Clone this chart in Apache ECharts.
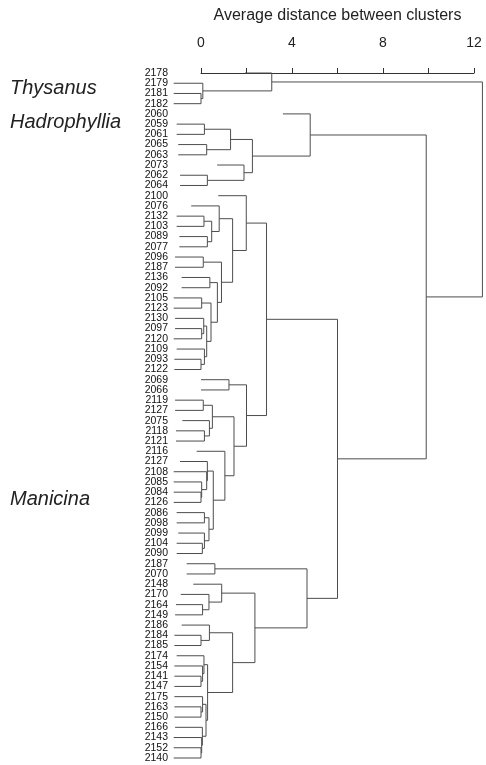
<!DOCTYPE html>
<html><head><meta charset="utf-8">
<script src="https://cdn.jsdelivr.net/npm/echarts@6/dist/echarts.min.js"></script>
<style>html,body{margin:0;padding:0;background:#fff}#c{width:486px;height:765px}</style>
</head><body><div id="c"></div>
<script>
// Leaf labels, top to bottom
const leaves = ['2178','2179','2181','2182','2060','2059','2061','2065','2063','2073','2062','2064',
  '2100','2076','2132','2103','2089','2077','2096','2187','2136','2092','2105','2123','2130','2097',
  '2120','2109','2093','2122','2069','2066','2119','2127','2075','2118','2121','2116','2127','2108',
  '2085','2084','2126','2086','2098','2099','2104','2090','2187','2070','2148','2170','2164','2149',
  '2186','2184','2185','2174','2154','2141','2147','2175','2163','2150','2166','2143','2152','2140'];

// Distance value where each leaf's stub begins (as drawn)
const leafStart = [1.93,-1.2,-1.2,-1.2,3.6,-1.07,-1.07,-1.0,-1.0,0.71,-0.92,-0.92,
  0.76,-0.43,-1.07,-1.07,-0.95,-0.95,-1.14,-1.14,-0.85,-0.85,-1.2,-1.2,-1.14,-1.14,
  -1.2,-1.07,-1.17,-1.17,0.0,0.0,-1.14,-1.14,-0.82,-1.1,-1.1,-0.19,-0.92,-1.2,
  -1.2,-1.2,-1.2,-1.07,-1.07,-1.0,-1.07,-1.07,-0.63,-0.63,-0.34,-0.89,-1.1,-1.14,
  -0.85,-1.17,-1.17,-1.07,-1.17,-1.17,-1.17,-1.17,-1.17,-1.17,-1.14,-1.2,-1.2,-1.2];

// Merges: [nodeA, nodeB, distance]; nodes < 68 are leaves, 68+k is the k-th merge
const merges = [
  [2,3,0.0],[1,68,0.08],[0,69,3.11],
  [5,6,0.15],[7,8,0.25],[71,72,1.3],[10,11,0.28],[9,74,1.89],[73,75,2.26],[4,76,4.8],
  [14,15,0.13],[16,17,0.28],[78,79,0.47],[13,80,0.8],[18,19,0.1],[20,21,0.39],[22,23,0.03],
  [25,26,0.03],[24,85,0.12],[28,29,0.0],[27,87,0.15],[86,88,0.25],[84,89,0.44],[83,90,0.72],
  [82,91,0.9],[81,92,1.39],[12,93,1.99],
  [30,31,1.23],[32,33,0.1],[35,36,0.15],[34,97,0.37],[96,98,0.5],
  [41,42,0.0],[40,100,0.03],[39,101,0.25],[38,102,0.28],
  [43,44,0.15],[46,47,0.06],[45,105,0.15],[104,106,0.35],[103,107,0.54],[37,108,1.05],
  [99,109,1.45],[95,110,2.0],[94,111,2.88],
  [48,49,0.61],[52,53,0.07],[51,114,0.35],[50,115,0.91],[55,56,0.0],[54,117,0.37],
  [59,60,0.0],[58,119,0.07],[57,120,0.13],[62,63,0.0],[61,122,0.07],[66,67,0.0],[65,124,0.03],
  [64,125,0.06],[123,126,0.22],[121,127,0.29],[118,128,1.39],[116,129,2.37],[113,130,4.66],
  [112,131,6.0],[77,132,9.9],[70,133,12.37]
];

const xTicks = [0, 4, 8, 12];
const groupNames = ['Thysanus', 'Hadrophyllia', 'Manicina'];

// Build segments from the tree
const n = leaves.length;
const nodeY = [], parentH = [];
for (let i = 0; i < n; i++) nodeY[i] = i;
merges.forEach(([a, b, h], k) => {
  nodeY[n + k] = (nodeY[a] + nodeY[b]) / 2;
  parentH[a] = h; parentH[b] = h;
});
const segs = [];
for (let i = 0; i < n; i++) segs.push([leafStart[i], i, parentH[i], i]);
merges.forEach(([a, b, h], k) => {
  const id = n + k;
  segs.push([h, nodeY[a], h, nodeY[b]]);
  if (parentH[id] !== undefined) segs.push([h, nodeY[id], parentH[id], nodeY[id]]);
});

const FONT = '"Liberation Sans", Arial, sans-serif';
const chart = echarts.init(document.getElementById('c'), null, {renderer: 'canvas'});
chart.setOption({
  animation: false,
  backgroundColor: '#fff',
  grid: {left: 201, right: 12, top: 67.9, bottom: 1.9},
  xAxis: {
    type: 'value', position: 'top', min: 0, max: 12, interval: 2, offset: 7.9,
    name: 'Average distance between clusters', nameLocation: 'middle', nameGap: 36,
    nameTextStyle: {fontSize: 16, color: '#222', fontFamily: FONT},
    axisLine: {show: true, lineStyle: {color: '#333', width: 1}},
    axisTick: {show: true, length: 5, lineStyle: {color: '#333'}},
    axisLabel: {margin: 10, fontSize: 14, color: '#222', fontFamily: FONT,
      formatter: v => xTicks.includes(v) ? String(v) : ''},
    splitLine: {show: false}
  },
  yAxis: [
    {type: 'category', inverse: true, data: leaves,
      axisLine: {show: false}, axisTick: {show: false}, splitLine: {show: false},
      axisLabel: {interval: 0, margin: 33, fontSize: 10.5, color: '#111', fontFamily: FONT}},
    {type: 'value', inverse: true, min: -0.5, max: 67.5, show: false, splitLine: {show: false}}
  ],
  graphic: [
    {type: 'text', x: 10, y: 88, style: {text: groupNames[0], fontSize: 20, fontStyle: 'italic', fontFamily: FONT, fill: '#222', verticalAlign: 'middle'}},
    {type: 'text', x: 10, y: 122, style: {text: groupNames[1], fontSize: 20, fontStyle: 'italic', fontFamily: FONT, fill: '#222', verticalAlign: 'middle'}},
    {type: 'text', x: 10, y: 499, style: {text: groupNames[2], fontSize: 20, fontStyle: 'italic', fontFamily: FONT, fill: '#222', verticalAlign: 'middle'}}
  ],
  series: [{
    type: 'custom', yAxisIndex: 1, clip: false,
    encode: {x: [0, 2], y: [1, 3]},
    data: segs,
    renderItem: function (params, api) {
      const p1 = api.coord([api.value(0), api.value(1)]);
      const p2 = api.coord([api.value(2), api.value(3)]);
      return {type: 'line', shape: {x1: p1[0], y1: p1[1], x2: p2[0], y2: p2[1]},
        style: {stroke: '#4d4d4d', lineWidth: 1}};
    }
  }]
});
</script></body></html>
